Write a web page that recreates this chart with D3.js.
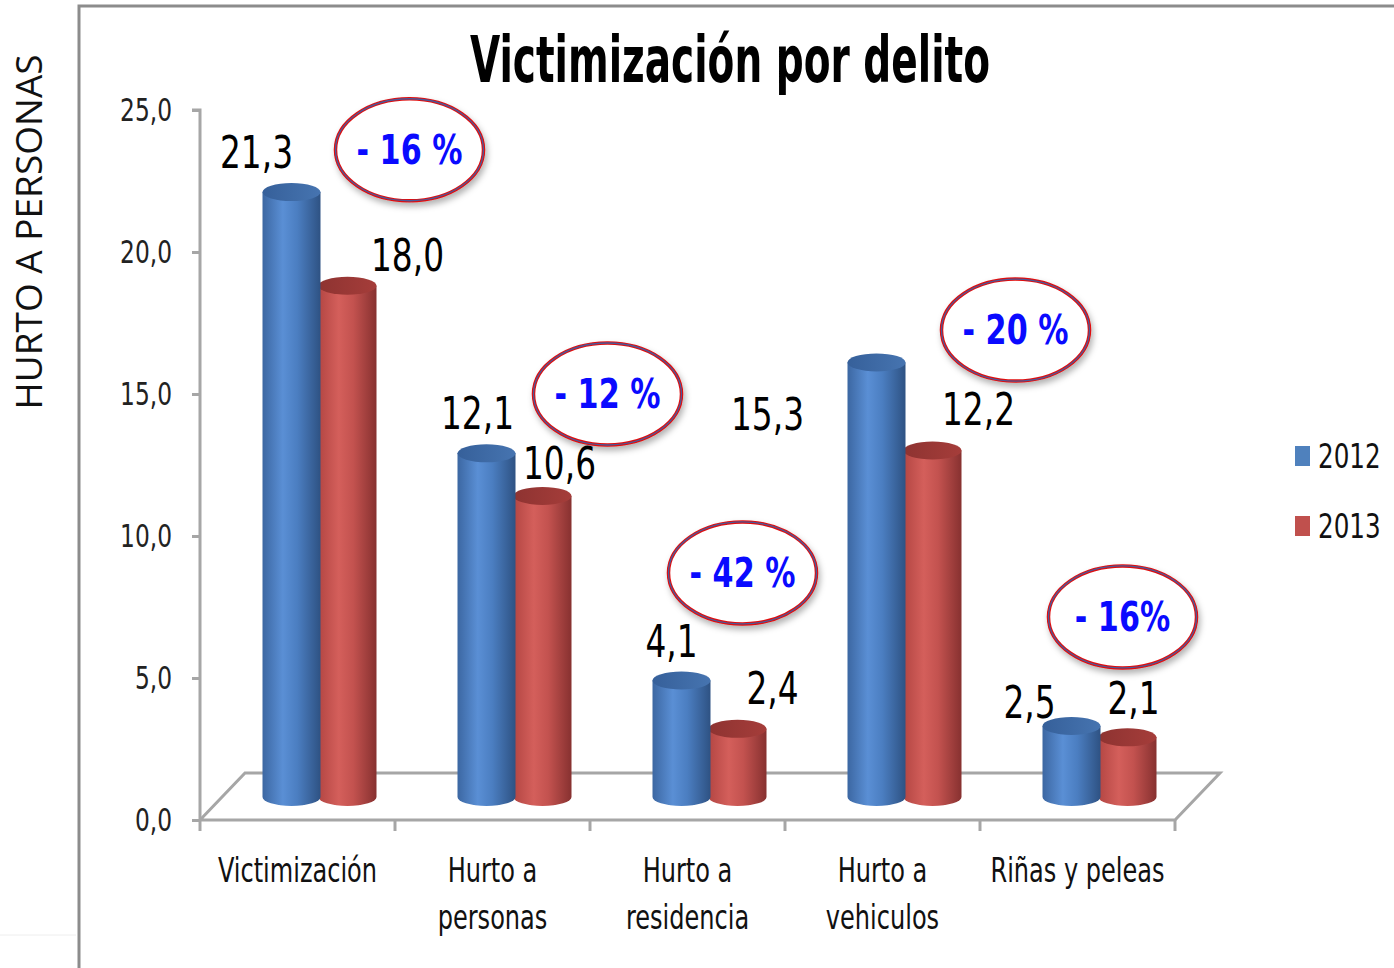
<!DOCTYPE html>
<html><head><meta charset="utf-8">
<script src="https://cdn.jsdelivr.net/npm/d3@7"></script>
<style>html,body{margin:0;padding:0;background:#fff;}svg{display:block;}</style>
</head><body>
<script>
// ---- data ----
const categories = [["Victimización"],["Hurto a","personas"],["Hurto a","residencia"],["Hurto a","vehiculos"],["Riñas y peleas"]];
const seriesNames = ["2012","2013"];
const values2012 = [21.3,12.1,4.1,15.3,2.5];
const values2013 = [18.0,10.6,2.4,12.2,2.1];
const changeLabels = ["- 16 %","- 12 %","- 42 %","- 20 %","- 16%"];
const yTicks = [0,5,10,15,20,25];
// layout tweaks (label offsets from bar tops, bubble placement)
const labelOffset2012 = [[-35,-40],[-9,-40],[-10,-39],[-109,52],[-42,-24]];
const labelOffset2013 = [[60,-31],[17,-33],[35,-41],[46,-41],[6,-39]];
const bubbleDx = [112,115,55,133,45];
const bubbleY = [23.6,15.0,8.7,17.25,7.15];

const W=1394,H=968;
const FONT = "'Liberation Sans Narrow','DejaVu Sans Condensed','Arial Narrow',sans-serif";
const SX = 0.81; // horizontal condensing to mimic Calibri
const svg = d3.select("body").append("svg").attr("width",W).attr("height",H);
const defs = svg.append("defs");

function ctext(g, x, y, str, size, opts={}){
  const t = g.append("text").attr("transform",`translate(${x},${y}) scale(${opts.sx||SX},1)`)
    .attr("font-family",FONT).attr("font-size",size).attr("text-anchor",opts.anchor||"middle")
    .attr("fill",opts.fill||"#111").attr("dy",opts.dy||"0.35em");
  if(opts.weight) t.attr("font-weight",opts.weight);
  t.text(str);
  return t;
}

function grad(id, stops){
  const g = defs.append("linearGradient").attr("id",id).attr("x1","0").attr("x2","1").attr("y1","0").attr("y2","0");
  stops.forEach(s=>g.append("stop").attr("offset",s[0]).attr("stop-color",s[1]));
}
grad("g2012",[["0%","#3c67a2"],["35%","#5a8fd5"],["60%","#4b7ec1"],["100%","#2e5283"]]);
grad("g2013",[["0%","#b34643"],["35%","#d45f5b"],["60%","#c3524f"],["100%","#873130"]]);
grad("t2012",[["0%","#36609a"],["100%","#4674b0"]]);
grad("t2013",[["0%","#8e3331"],["100%","#a53d3a"]]);
const f = defs.append("filter").attr("id","shadow").attr("x","-20%").attr("y","-20%").attr("width","150%").attr("height","160%");
f.append("feDropShadow").attr("dx",2).attr("dy",4).attr("stdDeviation",3).attr("flood-color","#000").attr("flood-opacity",0.3);

// frame
svg.append("path").attr("d","M79,968 L79,6 L1394,6").attr("fill","none").attr("stroke","#8c8c8c").attr("stroke-width",3);
svg.append("line").attr("x1",0).attr("x2",76).attr("y1",935).attr("y2",935).attr("stroke","#eee").attr("stroke-width",1);

// axis title
svg.append("text").attr("transform","translate(42,232) rotate(-90)").attr("text-anchor","middle")
  .attr("font-family","'Open Sans',sans-serif").attr("font-size",37).attr("fill","#111").text("HURTO A PERSONAS");

// title
svg.append("text").attr("x",730).attr("y",82).attr("text-anchor","middle")
  .attr("font-family",FONT).attr("font-weight","bold").attr("font-size",64)
  .attr("textLength",520).attr("lengthAdjust","spacingAndGlyphs").attr("fill","#000")
  .text("Victimización por delito");

// scales
const x0 = d3.scaleBand().domain(d3.range(categories.length)).range([200,1175]);
const y = d3.scaleLinear().domain([0,25]).range([820,110]);
const depth = {dx:45, dy:-47};
const mid = {dx:22, dy:-23};
const x1 = d3.scaleBand().domain(seriesNames).range([-56,56]);
const r = 29, ry = 9;

// floor
const gFloor = svg.append("g").attr("stroke","#a6a6a6").attr("stroke-width",3).attr("fill","none");
gFloor.append("path").attr("d",`M${x0.range()[0]},${y(0)} L${x0.range()[0]+depth.dx},${y(0)+depth.dy} L${x0.range()[1]+depth.dx},${y(0)+depth.dy} L${x0.range()[1]},${y(0)} Z`);

// y axis
const fmt = d=>d3.format(".1f")(d).replace(".",",");
const yAxis = d3.axisLeft(y).tickValues(yTicks).tickSize(8).tickFormat("");
const gy = svg.append("g").attr("transform",`translate(200,0)`).call(yAxis);
gy.select(".domain").attr("stroke","#a6a6a6").attr("stroke-width",3).attr("d",`M-8,${y(25)}H0V${y(0)}`);
gy.selectAll(".tick line").attr("stroke","#a6a6a6").attr("stroke-width",3);
const gyl = svg.append("g");
yTicks.forEach(v=>ctext(gyl, 172, y(v), fmt(v), 32, {anchor:"end", fill:"#222"}));

// x axis ticks
const xTickPos = d3.range(categories.length+1).map(i=>x0.range()[0]+i*x0.step());
svg.append("g").selectAll("line").data(xTickPos).join("line")
  .attr("x1",d=>d).attr("x2",d=>d).attr("y1",y(0)).attr("y2",y(0)+11)
  .attr("stroke","#a6a6a6").attr("stroke-width",3);

// category labels
const gc = svg.append("g");
categories.forEach((lines,i)=>{
  lines.forEach((l,j)=>ctext(gc, x0(i)+x0.bandwidth()/2, 870+j*47, l, 33));
});

// bars (cylinders)
const data = categories.map((c,i)=>({i, v:[values2012[i],values2013[i]]}));
const gb = svg.append("g");
data.forEach(d=>{
  const cx0 = x0(d.i)+x0.bandwidth()/2+mid.dx;
  [1,0].forEach(s=>{
    const name = seriesNames[s];
    const cx = cx0 + x1(name) + x1.bandwidth()/2;
    const top = y(d.v[s])+mid.dy, base = y(0)+mid.dy;
    gb.append("path")
      .attr("d",`M${cx-r},${top} L${cx-r},${base} A${r},${ry} 0 0 0 ${cx+r},${base} L${cx+r},${top} Z`)
      .attr("fill",`url(#g${name})`);
    gb.append("ellipse").attr("cx",cx).attr("cy",top).attr("rx",r).attr("ry",ry).attr("fill",`url(#t${name})`);
  });
});

// value labels
const gl = svg.append("g");
data.forEach(d=>{
  const cx0 = x0(d.i)+x0.bandwidth()/2+mid.dx;
  [0,1].forEach(s=>{
    const name = seriesNames[s];
    const cx = cx0 + x1(name) + x1.bandwidth()/2;
    const top = y(d.v[s])+mid.dy;
    const off = s===0?labelOffset2012[d.i]:labelOffset2013[d.i];
    ctext(gl, cx+off[0], top+off[1], fmt(d.v[s]), 45, {fill:"#000"});
  });
});

// change bubbles
const gbub = svg.append("g");
changeLabels.forEach((lab,i)=>{
  const cx = x0(i)+x0.bandwidth()/2+bubbleDx[i], cy = y(bubbleY[i]);
  gbub.append("ellipse").attr("cx",cx).attr("cy",cy).attr("rx",74).attr("ry",51)
    .attr("fill","#fff").attr("stroke","#e01010").attr("stroke-width",3.5).attr("filter","url(#shadow)");
  gbub.append("ellipse").attr("cx",cx).attr("cy",cy).attr("rx",74).attr("ry",51)
    .attr("fill","none").attr("stroke","#4a5a9a").attr("stroke-width",1.3);
  ctext(gbub, cx, cy, lab, 40, {weight:"bold", fill:"#0a0aff", sx:0.84});
});

// legend
const gleg = svg.append("g");
const legColors = {"2012":"#4f81bd","2013":"#c0504d"};
seriesNames.forEach((n,k)=>{
  const yy = 456 + k*70;
  gleg.append("rect").attr("x",1295).attr("y",yy-10).attr("width",15).attr("height",20).attr("fill",legColors[n]);
  ctext(gleg, 1318, yy, n, 33, {anchor:"start", sx:0.83});
});
</script>
</body></html>
